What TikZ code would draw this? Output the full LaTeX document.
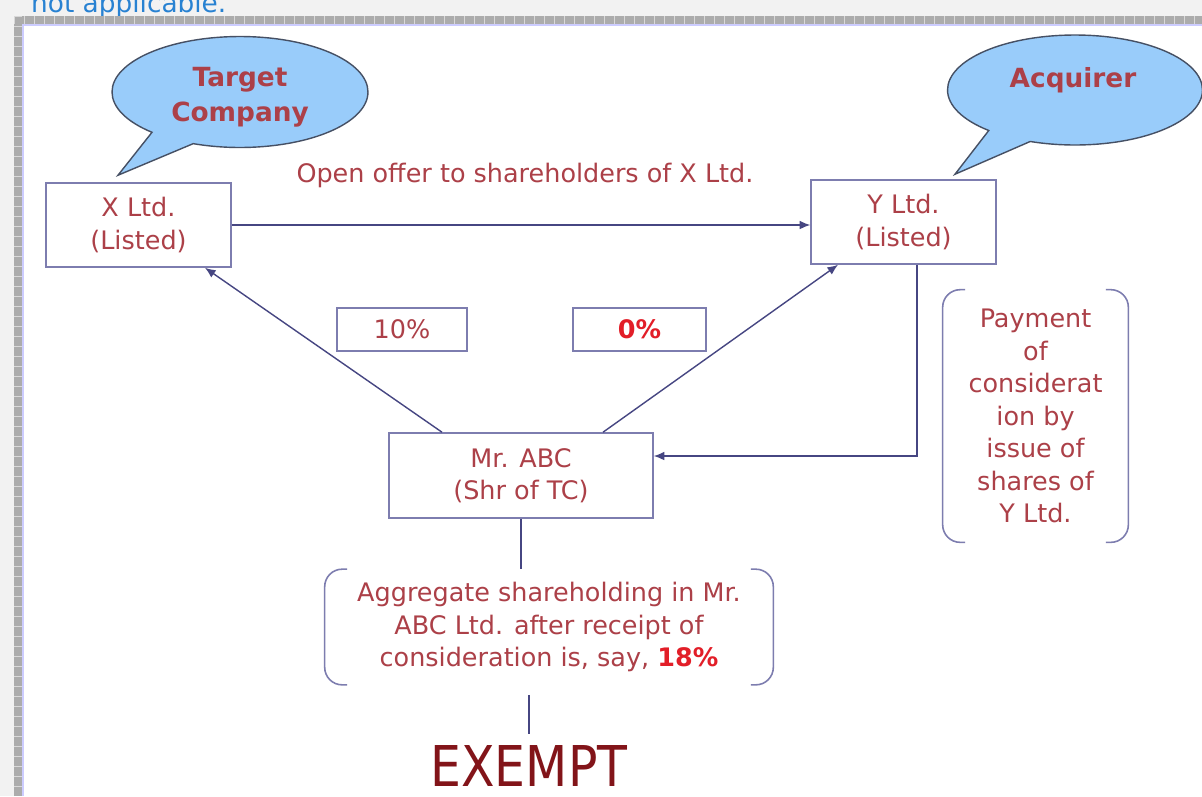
\documentclass[tikz,border=0pt]{standalone}
\usepackage{fontspec}
\setmainfont{DejaVu Sans}
\usetikzlibrary{shapes.callouts,arrows.meta}
\definecolor{txtred}{RGB}{172,64,72}
\definecolor{hotred}{RGB}{226,30,40}
\definecolor{boxline}{RGB}{125,125,175}
\definecolor{arrline}{RGB}{70,70,130}
\definecolor{bubble}{RGB}{153,204,250}
\definecolor{bubbleline}{RGB}{70,80,100}
\definecolor{frame}{RGB}{172,172,172}
\definecolor{paper}{RGB}{242,242,242}
\definecolor{linkblue}{RGB}{40,130,210}
\definecolor{exred}{RGB}{130,20,25}
\begin{document}
\begin{tikzpicture}[x=0.02cm,y=-0.02cm]
  \tikzstyle{every node}+=[font=\fontsize{14.5}{18.5}\selectfont, text=txtred, align=center]
  \tikzstyle{box}=[draw=boxline, line width=0.9pt, inner sep=0pt]
  \tikzstyle{bubble}=[ellipse callout, draw=bubbleline, fill=bubble, line width=0.8pt, inner sep=0pt, callout pointer arc=22]
  \tikzstyle{bubbletext}=[font=\fontsize{15}{20}\selectfont\bfseries]
  \tikzstyle{link}=[draw=arrline, line width=0.8pt, -{Latex[length=6pt,width=5pt]}]
  \tikzstyle{plain}=[draw=arrline, line width=0.8pt]
  \tikzstyle{brk}=[draw=boxline, line width=0.9pt, rounded corners=0.35cm]

  \useasboundingbox (0,0) rectangle (1202,796);
  \clip (0,0) rectangle (1202,796);
  \fill[paper] (0,0) rectangle (1202,796);
  \node (na) [anchor=base west, text=linkblue, font=\fontsize{15}{18}\selectfont] at (25,12.5) {not applicable.};
  \fill[frame] (14,16) rectangle (1202,24);
  \fill[frame] (14,16) rectangle (22,796);
  \foreach \i in {0,...,118} \draw[white!85!black, line width=0.3pt] (14+\i*10,16) -- ++(0,8);
  \foreach \i in {0,...,77} \draw[white!85!black, line width=0.3pt] (14,16+\i*10) -- ++(8,0);
  \fill[white] (23,25) rectangle (1202,796);
  \draw[blue!20, line width=0.8pt] (23,796) -- (23,25) -- (1202,25);

  \node (xltd) [box, minimum width=3.7cm, minimum height=1.68cm] at (138.5,225) {X Ltd.\\(Listed)};
  \node (yltd) [box, minimum width=3.7cm, minimum height=1.68cm] at (903.5,222) {Y Ltd.\\(Listed)};
  \node (pten) [box, minimum width=2.6cm, minimum height=0.86cm] at (402,329.5) {10\%};
  \node (pzero) [box, minimum width=2.66cm, minimum height=0.86cm, text=hotred, font=\fontsize{14.5}{18.5}\selectfont\bfseries] at (639.5,329.5) {0\%};
  \node (abc) [box, minimum width=5.28cm, minimum height=1.7cm] at (521,475.5) {Mr. ABC\\(Shr of TC)};
  \node (pay) [minimum width=3.7cm, minimum height=5.04cm, inner sep=0pt] at (1035.5,416) {Payment\\of\\considerat\\ion by\\issue of\\shares of\\Y Ltd.};
  \node (agg) [minimum width=8.96cm, minimum height=2.3cm, inner sep=0pt] at (549,627) {Aggregate shareholding in Mr.\\ABC Ltd. after receipt of\\consideration is, say, \textcolor{hotred}{\bfseries 18\%}};
  \node (ex) [inner sep=0pt, text=exred, font=\fontsize{32}{34}\selectfont] at (529,766) {\scalebox{0.87}[1]{EXEMPT}};

  \node (tgt) [bubble, minimum width=5.12cm, minimum height=2.22cm, callout absolute pointer={([xshift=-0.41cm,yshift=0.14cm]xltd.north)}] at (240,92) {};
  \node (tgttxt) [bubbletext] at (240,97) {Target\\Company};
  \node (acq) [bubble, minimum width=5.1cm, minimum height=2.2cm, callout absolute pointer={([xshift=1.03cm,yshift=0.1cm]yltd.north)}] at (1075,90) {};
  \node (acqtxt) [bubbletext] at (1073,80) {Acquirer};

  \node (offer) at (525,175) {Open offer to shareholders of X Ltd.};
  \draw[link] (xltd.east) -- (xltd.east -| yltd.west);
  \draw[link] ([xshift=-1.58cm]abc.north) -- ([xshift=1.33cm]xltd.south);
  \draw[link] ([xshift=1.64cm]abc.north) -- ([xshift=-1.31cm]yltd.south);
  \draw[link] ([xshift=0.27cm]yltd.south) |- ([yshift=0.39cm]abc.east);
  \draw[plain] (abc.south) -- (abc.south |- agg.north);
  \draw[plain] ([yshift=-0.2cm]agg.south -| ex.north) -- ([yshift=0.22cm]ex.north);

  \draw[brk] ([xshift=0.45cm]pay.north west) -- (pay.north west) -- (pay.south west) -- ([xshift=0.45cm]pay.south west);
  \draw[brk] ([xshift=-0.45cm]pay.north east) -- (pay.north east) -- (pay.south east) -- ([xshift=-0.45cm]pay.south east);
  \draw[brk] ([xshift=0.45cm]agg.north west) -- (agg.north west) -- (agg.south west) -- ([xshift=0.45cm]agg.south west);
  \draw[brk] ([xshift=-0.45cm]agg.north east) -- (agg.north east) -- (agg.south east) -- ([xshift=-0.45cm]agg.south east);
\end{tikzpicture}
\end{document}
